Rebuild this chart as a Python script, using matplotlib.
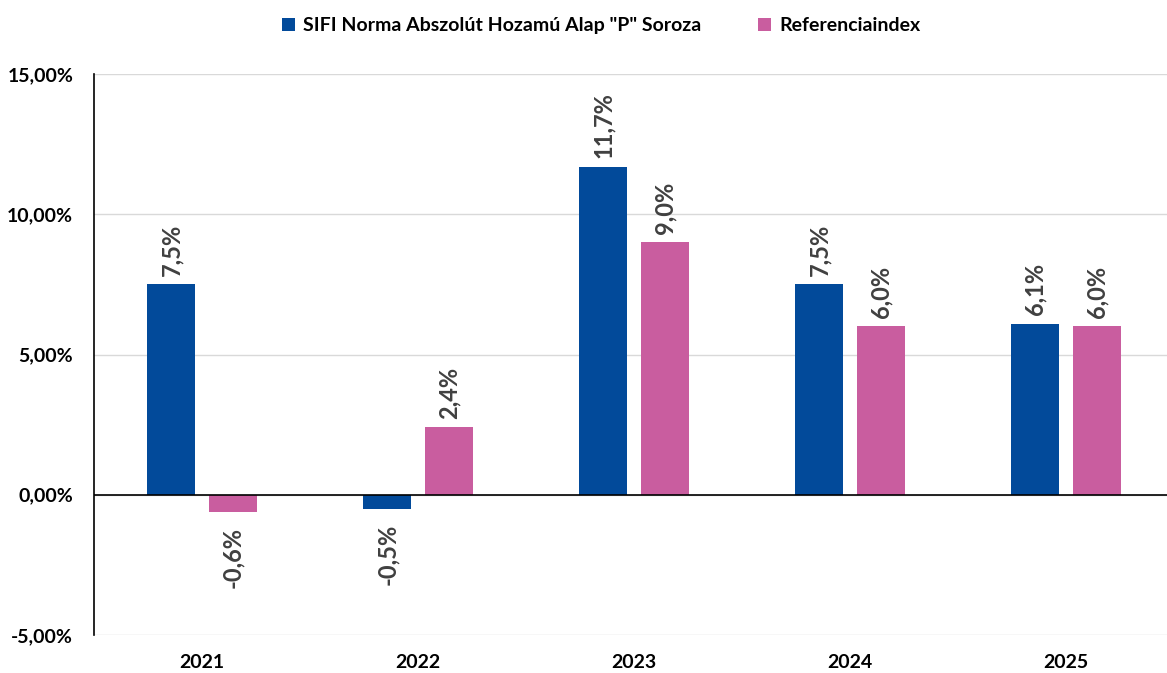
import numpy as np
import matplotlib.pyplot as plt

# chart data
years = ['2021', '2022', '2023', '2024', '2025']
fund = [7.5, -0.5, 11.7, 7.5, 6.1]
bench = [-0.6, 2.4, 9.0, 6.0, 6.0]
fund_name = 'SIFI Norma Abszolút Hozamú Alap "P" Soroza'
bench_name = 'Referenciaindex'
yticks = [-5, 0, 5, 10, 15]

blue = '#024A9A'
pink = '#C95D9F'
plt.rcParams['font.family'] = ['Lato', 'DejaVu Sans']

fig = plt.figure(figsize=(11.67, 6.73), dpi=100)
ax = fig.add_axes([94 / 1167, 1 - 635 / 673, 1 - 94 / 1167, (635 - 74) / 673])

x = np.arange(len(years))
w = 0.222
off = 0.142
b1 = ax.bar(x - off, fund, w, color=blue, label=fund_name, zorder=3)
b2 = ax.bar(x + off, bench, w, color=pink, label=bench_name, zorder=3)

def fmt(v):
    return ('%.1f%%' % v).replace('.', ',')

for bars, vals in ((b1, fund), (b2, bench)):
    for rect, v in zip(bars, vals):
        cx = rect.get_x() + rect.get_width() / 2
        if v >= 0:
            ax.annotate(fmt(v), (cx, v), xytext=(0, 6), textcoords='offset points',
                        rotation=90, ha='center', va='bottom', fontsize=17,
                        fontweight='bold', color='#404040')
        else:
            ax.annotate(fmt(v), (cx, v), xytext=(0, -11), textcoords='offset points',
                        rotation=90, ha='center', va='top', fontsize=17,
                        fontweight='bold', color='#404040')

ax.set_xlim(-0.5, -0.5 + 1073 / 216)
ax.set_ylim(-5, 15)
ax.set_yticks(yticks)
ax.set_yticklabels([('%.2f%%' % t).replace('.', ',') for t in yticks],
                   fontsize=14, fontweight='bold')
ax.set_xticks(x)
ax.set_xticklabels(years, fontsize=14, fontweight='bold')
ax.tick_params(axis='both', length=0)
ax.tick_params(axis='y', pad=15)
ax.tick_params(axis='x', pad=14)

ax.grid(axis='y', color='#D9D9D9', linewidth=1, zorder=0)
ax.axhline(0, color='black', linewidth=1.2, zorder=4)
for s in ('top', 'right', 'bottom'):
    ax.spines[s].set_visible(False)
ax.spines['left'].set_color('black')
ax.spines['left'].set_linewidth(1.2)

leg = fig.legend(loc='upper center', bbox_to_anchor=(0.515, 1.0), ncol=2, frameon=False,
                 prop={'size': 14, 'weight': 'bold'}, handlelength=0.7, handleheight=0.7,
                 handletextpad=0.4, columnspacing=2.9)

fig.savefig('out.png', dpi=100)
